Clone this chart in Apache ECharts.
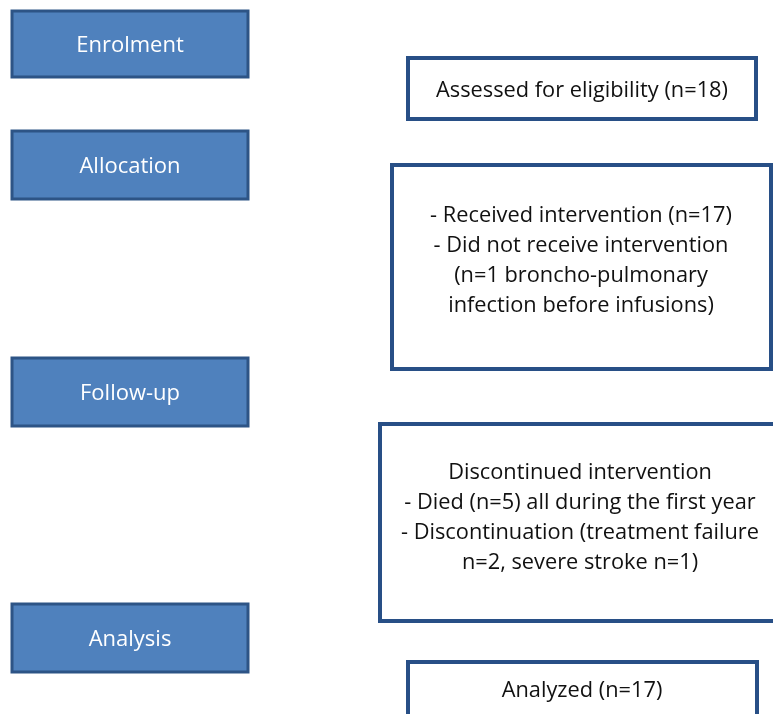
<!DOCTYPE html>
<html>
<head>
<meta charset="utf-8">
<script src="https://cdn.jsdelivr.net/npm/echarts@6/dist/echarts.min.js"></script>
<style>
  html, body { margin: 0; padding: 0; background: #fff; }
  #main { width: 773px; height: 714px; }
</style>
</head>
<body>
<div id="main"></div>
<script>
// stages on the left (blue boxes)
var stages = ["Enrolment", "Allocation", "Follow-up", "Analysis"];
// text of the boxes on the right
var boxTexts = [
  ["Assessed for eligibility (n=18)"],
  ["- Received intervention (n=17)", "- Did not receive intervention", "(n=1 broncho-pulmonary", "infection before infusions)"],
  ["Discontinued intervention", "- Died (n=5) all during the first year", "- Discontinuation (treatment failure", "n=2, severe stroke n=1)"],
  ["Analyzed (n=17)"]
];

var stageBoxes = [
  { x: 12, y: 11, w: 236, h: 66 },
  { x: 12, y: 131, w: 236, h: 68 },
  { x: 12, y: 358, w: 236, h: 68 },
  { x: 12, y: 604, w: 236, h: 68 }
];
var rightBoxes = [
  { x: 408, y: 58, w: 348, h: 61, cx: 582, cy: 91 },
  { x: 392, y: 165, w: 379, h: 204, cx: 581, cy: 261 },
  { x: 380, y: 424, w: 420, h: 197, cx: 580, cy: 518 },
  { x: 408, y: 662, w: 349, h: 80, cx: 582, cy: 691 }
];

var font = "'Open Sans', 'Noto Sans', sans-serif";
var elements = [];

stages.forEach(function (name, i) {
  var b = stageBoxes[i];
  elements.push({
    type: "rect",
    shape: { x: b.x, y: b.y, width: b.w, height: b.h },
    style: { fill: "#4f81bd", stroke: "#2d5486", lineWidth: 3 }
  });
  elements.push({
    type: "text",
    x: b.x + b.w / 2,
    y: b.y + b.h / 2 + 1.5,
    scaleX: 1.0,
    style: {
      text: name,
      fill: "#ffffff",
      fontSize: 22,
      fontFamily: font,
      align: "center",
      verticalAlign: "middle"
    }
  });
});

boxTexts.forEach(function (lines, i) {
  var b = rightBoxes[i];
  elements.push({
    type: "rect",
    shape: { x: b.x, y: b.y, width: b.w, height: b.h },
    style: { fill: "#ffffff", stroke: "#284f86", lineWidth: 4 }
  });
  elements.push({
    type: "text",
    x: b.cx,
    y: b.cy,
    scaleX: 0.99,
    style: {
      text: lines.join("\n"),
      fill: "#111111",
      fontSize: 22,
      fontFamily: font,
      lineHeight: 30,
      align: "center",
      verticalAlign: "middle"
    }
  });
});

var chart = echarts.init(document.getElementById("main"), null, { renderer: "canvas" });
chart.setOption({
  backgroundColor: "#ffffff",
  animation: false,
  graphic: { elements: elements }
});
</script>
</body>
</html>
